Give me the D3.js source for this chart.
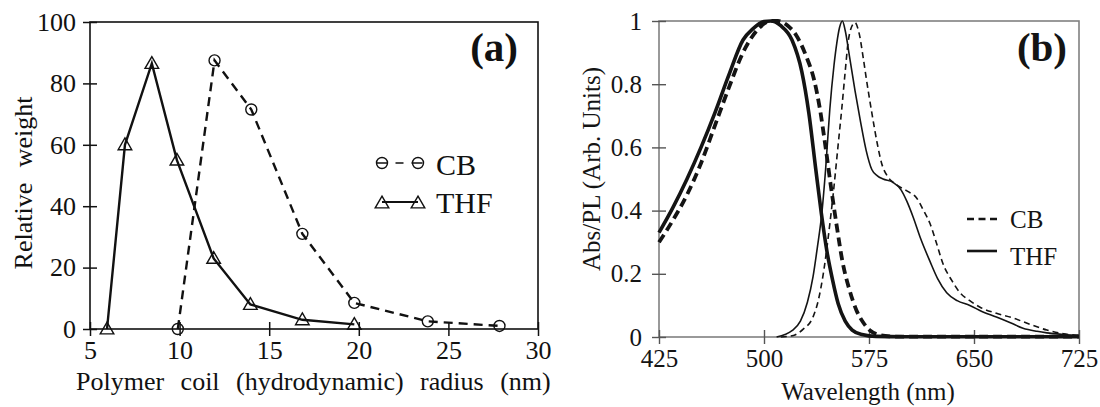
<!DOCTYPE html>
<html>
<head>
<meta charset="utf-8">
<script src="https://cdn.jsdelivr.net/npm/d3@7"></script>
<style>
  html, body { margin: 0; padding: 0; background: #fff; }
  svg { display: block; font-family: "Liberation Serif", "Times New Roman", "DejaVu Serif", serif; }
</style>
</head>
<body>
<svg id="chart" width="1100" height="407"></svg>
<script>
// ---- Panel (a): size distribution of polymer coils ----
const radiusTicks = [5, 10, 15, 20, 25, 30];
const weightTicks = [0, 20, 40, 60, 80, 100];
const radiusTHF = [5.95, 6.95, 8.45, 9.85, 11.9, 13.95, 16.85, 19.75];
const weightTHF = [0, 60, 86.5, 55, 23, 8, 3, 1.5];
const radiusCB = [9.9, 11.95, 14.0, 16.85, 19.75, 23.85, 27.85];
const weightCB = [0, 87.5, 71.5, 31, 8.5, 2.5, 1];

// ---- Panel (b): normalised absorption and photoluminescence ----
const waveTicks = [425, 500, 575, 650, 725];
const intensityTicks = [0, 0.2, 0.4, 0.6, 0.8, 1];
const intensityTickLabels = ["0", "0.2", "0.4", "0.6", "0.8", "1"];

const absWaveTHF = [425, 435, 445, 455, 465, 475, 485, 492, 500, 505, 512, 520, 527, 532, 537, 541, 545, 549, 553, 558, 563, 570, 580, 600, 650, 725];
const absTHF =     [0.33, 0.41, 0.50, 0.60, 0.71, 0.83, 0.94, 0.975, 0.998, 1.0, 0.985, 0.94, 0.84, 0.71, 0.53, 0.39, 0.27, 0.18, 0.105, 0.05, 0.022, 0.008, 0.002, 0.001, 0.001, 0.001];

const absWaveCB = [425, 435, 445, 455, 465, 475, 485, 490, 497, 505, 510, 517, 523, 530, 536, 540, 544, 548, 552, 556, 561, 566, 571, 576, 582, 590, 600, 650, 725];
const absCB =     [0.30, 0.37, 0.45, 0.55, 0.67, 0.79, 0.90, 0.94, 0.98, 1.0, 1.0, 0.985, 0.955, 0.89, 0.81, 0.72, 0.60, 0.47, 0.35, 0.24, 0.15, 0.085, 0.045, 0.02, 0.007, 0.002, 0.001, 0.001, 0.001];

const plWaveTHF = [509, 515, 520, 526, 531, 535, 538, 541.5, 544, 547, 550, 552, 554, 556, 558, 561, 565, 569, 573, 577, 581, 585, 592, 598, 602, 606.5, 612, 618.5, 624, 630.5, 638, 647, 656, 666, 676, 685, 695, 702, 714, 725];
const plTHF =     [0, 0.008, 0.02, 0.05, 0.11, 0.19, 0.28, 0.40, 0.53, 0.72, 0.86, 0.93, 0.98, 1.0, 0.97, 0.89, 0.78, 0.68, 0.59, 0.53, 0.51, 0.50, 0.49, 0.465, 0.43, 0.38, 0.31, 0.24, 0.185, 0.14, 0.115, 0.10, 0.08, 0.063, 0.045, 0.028, 0.018, 0.013, 0.008, 0.005];

const plWaveCB = [512, 521, 528, 535, 539, 542, 546, 549.5, 553, 555.5, 558, 560, 562, 565, 568, 571, 573, 577, 581, 584, 588, 592, 597, 603, 609, 614, 618.5, 623, 628, 634, 640, 647, 654, 666, 678, 690, 702, 714, 725];
const plCB =     [0, 0.005, 0.025, 0.063, 0.12, 0.19, 0.32, 0.455, 0.61, 0.72, 0.84, 0.93, 0.975, 0.995, 0.96, 0.88, 0.82, 0.71, 0.61, 0.55, 0.51, 0.49, 0.475, 0.46, 0.44, 0.40, 0.36, 0.30, 0.23, 0.18, 0.14, 0.115, 0.095, 0.075, 0.06, 0.04, 0.022, 0.01, 0.005];

const SERIF = '"Liberation Serif", "Times New Roman", "DejaVu Serif", serif';
const svg = d3.select("#chart");
const zip = (xs, ys) => xs.map((x, i) => [x, ys[i]]);
const serif = sel => sel.style("font-family", SERIF);

// ================= Panel (a) =================
const xa = d3.scaleLinear().domain([5, 30]).range([90, 538]);
const ya = d3.scaleLinear().domain([0, 100]).range([329, 22]);
const ga = svg.append("g");
const inkA = "#111";

ga.append("rect")
  .attr("x", xa(5)).attr("y", ya(100))
  .attr("width", xa(30) - xa(5)).attr("height", ya(0) - ya(100))
  .attr("fill", "none").attr("stroke", inkA).attr("stroke-width", 1.6);

const axA_x = ga.append("g").attr("transform", `translate(0,${ya(0)})`)
  .call(d3.axisBottom(xa).tickValues(radiusTicks).tickSize(7));
axA_x.attr("font-family", null);
axA_x.select(".domain").remove();
axA_x.selectAll(".tick line").attr("y1", -7).attr("y2", 7).attr("stroke", inkA).attr("stroke-width", 1.5);
axA_x.selectAll(".tick text").attr("font-size", 26).attr("y", 12).attr("dy", "0.71em")
  .attr("fill", inkA).call(serif);

const axA_y = ga.append("g").attr("transform", `translate(${xa(5)},0)`)
  .call(d3.axisLeft(ya).tickValues(weightTicks).tickSize(7));
axA_y.attr("font-family", null);
axA_y.select(".domain").remove();
axA_y.selectAll(".tick line").attr("x1", -7).attr("x2", 7).attr("stroke", inkA).attr("stroke-width", 1.5);
axA_y.selectAll(".tick text").attr("font-size", 26).attr("x", -14)
  .attr("fill", inkA).call(serif);

ga.append("text")
  .attr("x", 76).attr("y", 390)
  .attr("font-size", 26).style("word-spacing", "10px").attr("fill", inkA)
  .call(serif)
  .text("Polymer coil (hydrodynamic) radius (nm)");

ga.append("text")
  .attr("transform", `translate(32,183) rotate(-90)`)
  .attr("text-anchor", "middle").attr("font-size", 26).style("word-spacing", "9px").attr("fill", inkA)
  .call(serif)
  .text("Relative weight");

ga.append("text")
  .attr("x", 518).attr("y", 61).attr("text-anchor", "end")
  .attr("font-size", 41).attr("font-weight", "bold").attr("fill", inkA)
  .call(serif)
  .text("(a)");

const lineA = d3.line().x(d => xa(d[0])).y(d => ya(d[1]));
const cbPts = zip(radiusCB, weightCB);
const thfPts = zip(radiusTHF, weightTHF);

ga.append("path").datum(cbPts).attr("d", lineA)
  .attr("fill", "none").attr("stroke", inkA).attr("stroke-width", 2.4)
  .attr("stroke-dasharray", "9,6");
ga.append("path").datum(thfPts).attr("d", lineA)
  .attr("fill", "none").attr("stroke", inkA).attr("stroke-width", 2.4);

const tri = d3.symbol().type(d3.symbolTriangle).size(80);
ga.selectAll("circle.cb").data(cbPts).join("circle")
  .attr("class", "cb")
  .attr("cx", d => xa(d[0])).attr("cy", d => ya(d[1])).attr("r", 5.5)
  .attr("fill", "none").attr("stroke", inkA).attr("stroke-width", 1.4);
ga.selectAll("path.thf").data(thfPts).join("path")
  .attr("class", "thf")
  .attr("d", tri)
  .attr("transform", d => `translate(${xa(d[0])},${ya(d[1]) + 1})`)
  .attr("fill", "none").attr("stroke", inkA).attr("stroke-width", 1.4);

// legend (a)
const legA = ga.append("g");
legA.append("line").attr("x1", 376.5).attr("x2", 423.5).attr("y1", 163).attr("y2", 163)
  .attr("stroke", inkA).attr("stroke-width", 1.6).attr("stroke-dasharray", "11,8,8,8,11");
[382, 418].forEach(cx => legA.append("circle").attr("cx", cx).attr("cy", 163).attr("r", 5.5)
  .attr("fill", "none").attr("stroke", inkA).attr("stroke-width", 1.4));
legA.append("text").attr("x", 436).attr("y", 175).attr("font-size", 30).attr("fill", inkA).call(serif).text("CB");

legA.append("line").attr("x1", 382).attr("x2", 418).attr("y1", 202).attr("y2", 202)
  .attr("stroke", inkA).attr("stroke-width", 2);
[382, 418].forEach(cx => legA.append("path").attr("d", tri)
  .attr("transform", `translate(${cx},204)`)
  .attr("fill", "none").attr("stroke", inkA).attr("stroke-width", 1.4));
legA.append("text").attr("x", 436).attr("y", 213).attr("font-size", 30).attr("fill", inkA).call(serif).text("THF");

// ================= Panel (b) =================
const xb = d3.scaleLinear().domain([425, 725]).range([659, 1079]);
const yb = d3.scaleLinear().domain([0, 1]).range([337, 21]);
const gb = svg.append("g");
const frameB = "#808080";
const inkB = "#141414";

gb.append("rect")
  .attr("x", xb(425)).attr("y", yb(1))
  .attr("width", xb(725) - xb(425)).attr("height", yb(0) - yb(1))
  .attr("fill", "none").attr("stroke", frameB).attr("stroke-width", 1.6);

const axB_x = gb.append("g").attr("transform", `translate(0,${yb(0)})`)
  .call(d3.axisBottom(xb).tickValues(waveTicks).tickSize(7));
axB_x.attr("font-family", null);
axB_x.select(".domain").remove();
axB_x.selectAll(".tick line").attr("y1", -7).attr("y2", 7).attr("stroke", "#555").attr("stroke-width", 1.4);
axB_x.selectAll(".tick text").attr("font-size", 25).attr("y", 12).attr("dy", "0.71em")
  .attr("fill", inkB).call(serif);

const axB_y = gb.append("g").attr("transform", `translate(${xb(425)},0)`)
  .call(d3.axisLeft(yb).tickValues(intensityTicks).tickFormat((d, i) => intensityTickLabels[i]).tickSize(7));
axB_y.attr("font-family", null);
axB_y.select(".domain").remove();
axB_y.selectAll(".tick line").attr("x1", -7).attr("x2", 7).attr("stroke", "#555").attr("stroke-width", 1.4);
axB_y.selectAll(".tick text").attr("font-size", 25).attr("x", -17)
  .attr("fill", inkB).call(serif);

gb.append("text")
  .attr("x", 868).attr("y", 400).attr("text-anchor", "middle")
  .attr("font-size", 25).attr("fill", inkB).call(serif).text("Wavelength (nm)");

gb.append("text")
  .attr("transform", `translate(600,169) rotate(-90)`)
  .attr("text-anchor", "middle").attr("font-size", 25).attr("fill", inkB).call(serif)
  .text("Abs/PL (Arb. Units)");

gb.append("text")
  .attr("x", 1067).attr("y", 61).attr("text-anchor", "end")
  .attr("font-size", 41).attr("font-weight", "bold").attr("fill", inkB).call(serif)
  .text("(b)");

const lineB = d3.line().x(d => xb(d[0])).y(d => yb(d[1])).curve(d3.curveMonotoneX);

// photoluminescence (thin)
gb.append("path").datum(zip(plWaveCB, plCB)).attr("d", lineB)
  .attr("fill", "none").attr("stroke", inkB).attr("stroke-width", 1.6)
  .attr("stroke-dasharray", "6,4");
gb.append("path").datum(zip(plWaveTHF, plTHF)).attr("d", lineB)
  .attr("fill", "none").attr("stroke", inkB).attr("stroke-width", 1.6);

// absorption (thick)
gb.append("path").datum(zip(absWaveCB, absCB)).attr("d", lineB)
  .attr("fill", "none").attr("stroke", inkB).attr("stroke-width", 3.8)
  .attr("stroke-dasharray", "9,5");
gb.append("path").datum(zip(absWaveTHF, absTHF)).attr("d", lineB)
  .attr("fill", "none").attr("stroke", inkB).attr("stroke-width", 3.6);

// legend (b)
const legB = gb.append("g");
legB.append("line").attr("x1", 967).attr("x2", 997).attr("y1", 219).attr("y2", 219)
  .attr("stroke", inkB).attr("stroke-width", 2.4).attr("stroke-dasharray", "7,4.5");
legB.append("text").attr("x", 1010).attr("y", 228).attr("font-size", 25).attr("fill", inkB).call(serif).text("CB");
legB.append("line").attr("x1", 967).attr("x2", 997).attr("y1", 251).attr("y2", 251)
  .attr("stroke", inkB).attr("stroke-width", 2.6);
legB.append("text").attr("x", 1010).attr("y", 265).attr("font-size", 25).attr("fill", inkB).call(serif).text("THF");
</script>
</body>
</html>
